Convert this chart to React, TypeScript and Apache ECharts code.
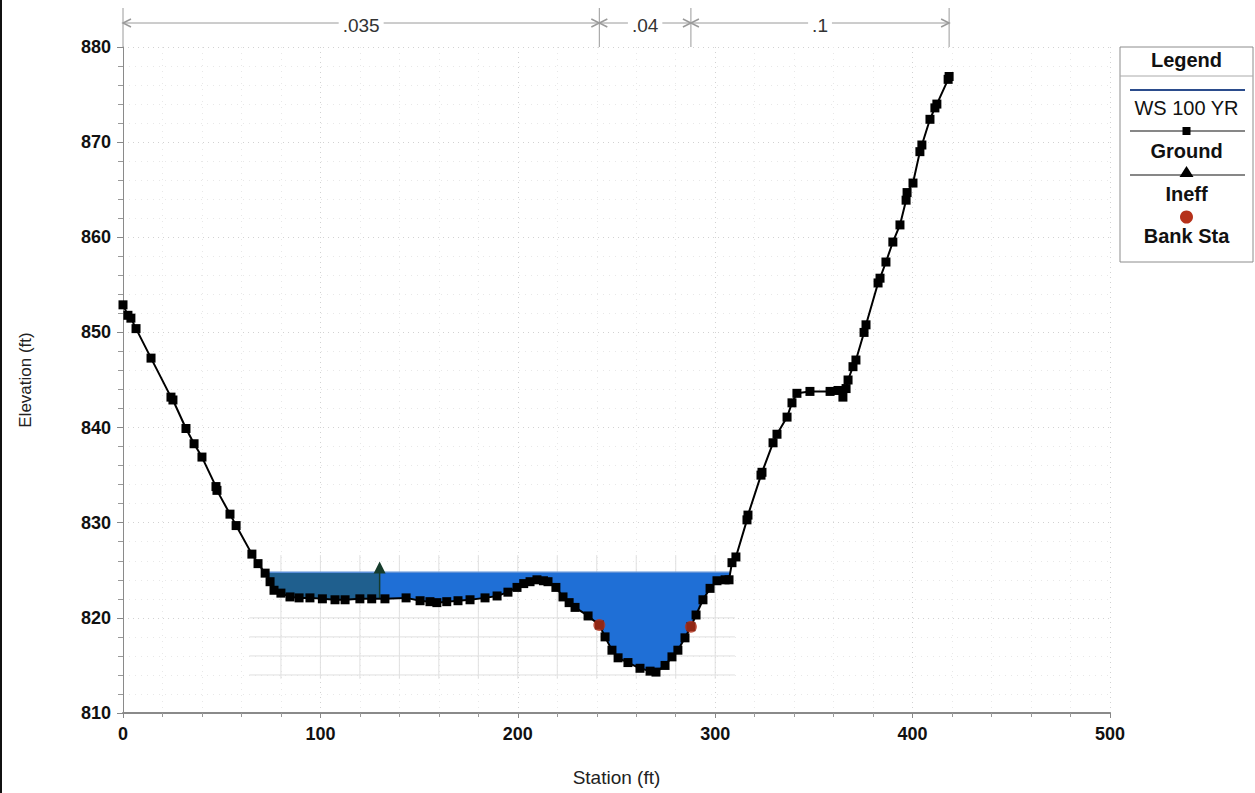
import React, { useEffect, useRef } from 'react';
import * as echarts from 'echarts';

// ---------- data ----------
const groundStation = [
  0, 2.5, 4, 6.6, 14.2, 24.3, 25.3, 31.9, 36, 40, 47.1, 47.6, 54.2, 57.3, 65.3, 68.4, 72, 74.5, 76.5, 80,
  84.6, 89.2, 94.7, 101, 107.4, 112.5, 120, 126, 132.7, 143.4, 150.5, 155.5, 159, 164, 169.7, 175.8, 183.4,
  189.5, 195, 199.6, 203, 206.2, 209.7, 213, 215.3, 219.3, 222.9, 226, 229, 235.6, 241.3, 244.2, 247.7,
  250.8, 255.8, 261.9, 267, 270, 274.6, 278.1, 281.1, 284.7, 287.7, 290.3, 293.8, 297.4, 300.9, 305, 307,
  308.5, 310.5, 316.1, 316.6, 323.2, 323.7, 329.3, 331.3, 336.4, 338.9, 341.4, 348, 358.2, 362.2, 364.7,
  366.3, 367.3, 369.8, 371.3, 375.4, 376.4, 382.5, 383.5, 386.5, 390, 393.6, 396.7, 397.2, 400.2, 403.7,
  404.7, 408.8, 411.3, 412.3, 418, 418.5,
];
const groundElevation = [
  852.9, 851.8, 851.5, 850.4, 847.3, 843.2, 842.9, 839.9, 838.3, 836.9, 833.8, 833.4, 830.9, 829.7, 826.7,
  825.7, 824.7, 823.8, 822.9, 822.6, 822.2, 822.1, 822.1, 822.0, 821.9, 821.9, 822.0, 822.0, 822.0, 822.1,
  821.8, 821.7, 821.6, 821.7, 821.8, 821.9, 822.1, 822.3, 822.7, 823.2, 823.6, 823.8, 824.0, 823.9, 823.8,
  823.2, 822.2, 821.6, 821.1, 820.2, 819.25, 818.0, 816.6, 815.8, 815.3, 814.7, 814.4, 814.3, 815.0, 815.9,
  816.6, 817.9, 819.07, 820.3, 821.9, 823.1, 823.9, 824.0, 824.0, 825.8, 826.4, 830.3, 830.8, 835.0, 835.3,
  838.4, 839.3, 841.1, 842.6, 843.6, 843.8, 843.8, 843.9, 843.2, 844.1, 845.0, 846.4, 847.1, 850.0, 850.8,
  855.2, 855.7, 857.4, 859.5, 861.3, 863.9, 864.7, 865.7, 869.0, 869.7, 872.4, 873.6, 874.0, 876.6, 876.9,
];
const bankStation = [241.3, 287.7];
const bankElevation = [819.25, 819.07];
const wsElevation = 824.8;
const ineffStation = 130;
const ineffElevation = 825.3;
const nBreaks = [0, 241.3, 287.7, 418.5];
const nValues = ['.035', '.04', '.1'];
const meshStations = [80, 100, 120, 140, 160, 180, 200, 220, 240, 260, 280, 300];
const meshElevations = [814, 816, 818, 820];
const meshStationRange = [64, 310];
const meshElevationRange = [813.6, 826.6];
const xMin = 0, xMax = 500, xStep = 100;
const yMin = 810, yMax = 880, yStep = 10;
const legendItems = ['WS 100 YR', 'Ground', 'Ineff', 'Bank Sta'];

// ---------- helpers ----------
function groundAt(s: number): number {
  for (let i = 0; i < groundStation.length - 1; i++) {
    const a = groundStation[i], b = groundStation[i + 1];
    if (s >= a && s <= b) {
      const t = b === a ? 0 : (s - a) / (b - a);
      return groundElevation[i] + t * (groundElevation[i + 1] - groundElevation[i]);
    }
  }
  return groundElevation[groundElevation.length - 1];
}
function crossing(i: number): number {
  const a = groundStation[i], b = groundStation[i + 1];
  const ea = groundElevation[i], eb = groundElevation[i + 1];
  return a + ((wsElevation - ea) / (eb - ea)) * (b - a);
}
function waterEdges(): [number, number] {
  let left = 0, right = 0;
  for (let i = 0; i < groundStation.length - 1; i++) {
    if (groundElevation[i] > wsElevation && groundElevation[i + 1] <= wsElevation) { left = crossing(i); break; }
  }
  for (let i = groundStation.length - 2; i >= 0; i--) {
    if (groundElevation[i] <= wsElevation && groundElevation[i + 1] > wsElevation) { right = crossing(i); break; }
  }
  return [left, right];
}

const FONT = '"Liberation Sans", Arial, sans-serif';

export default function App() {
  const ref = useRef<HTMLDivElement>(null);
  useEffect(() => {
    if (!ref.current) return;
    const chart = echarts.init(ref.current, undefined, { renderer: 'svg' });
    const [wsLeft, wsRight] = waterEdges();
    const groundData = groundStation.map((s, i) => [s, groundElevation[i]]);

    const legendX = 1120, legendY = 47, legendW = 133, legendH = 215;
    const cx = legendX + legendW / 2;
    const textStyle = (text: string, y: number, bold = false) => ({
      type: 'text', x: cx, y,
      style: { text, fill: '#111', font: `${bold ? 'bold ' : ''}20px ${FONT}`, align: 'center', verticalAlign: 'middle' },
    });

    chart.setOption({
      animation: false,
      backgroundColor: '#ffffff',
      grid: { left: 123, right: 145, top: 47, bottom: 80, containLabel: false },
      xAxis: {
        type: 'value', min: xMin, max: xMax, interval: xStep,
        name: 'Station (ft)', nameLocation: 'middle', nameGap: 55,
        nameTextStyle: { fontSize: 19, color: '#222', fontFamily: FONT },
        axisLine: { show: true, onZero: false, lineStyle: { color: '#8a8a8a', width: 2 } },
        axisTick: { show: true, length: 5, lineStyle: { color: '#888' } },
        minorTick: { show: true, splitNumber: 5, length: 4, lineStyle: { color: '#999' } },
        axisLabel: { fontSize: 18, fontWeight: 'bold', color: '#111', margin: 12, fontFamily: FONT },
        splitLine: { show: true, lineStyle: { color: '#d2d2d2', type: [1, 4], width: 1 } },
        minorSplitLine: { show: true, lineStyle: { color: '#e8e8e8', type: [1, 5], width: 1 } },
      },
      yAxis: {
        type: 'value', min: yMin, max: yMax, interval: yStep,
        name: 'Elevation (ft)', nameLocation: 'middle', nameGap: 89, nameRotate: 90,
        nameTextStyle: { fontSize: 17, color: '#222', fontFamily: FONT },
        axisLine: { show: true, lineStyle: { color: '#8a8a8a', width: 1 } },
        axisTick: { show: true, length: 6, lineStyle: { color: '#888' } },
        minorTick: { show: true, splitNumber: 5, length: 5, lineStyle: { color: '#999' } },
        axisLabel: { fontSize: 18, fontWeight: 'bold', color: '#111', margin: 12, fontFamily: FONT },
        splitLine: { show: true, lineStyle: { color: '#d2d2d2', type: [1, 4], width: 1 } },
        minorSplitLine: { show: true, lineStyle: { color: '#e8e8e8', type: [1, 5], width: 1 } },
      },
      series: [
        {
          name: 'mesh', type: 'custom', silent: true, z: 1,
          data: [[meshStationRange[0], meshElevationRange[0]]],
          renderItem: (_p: any, api: any) => {
            const children: any[] = [];
            meshElevations.forEach((e) => {
              const a = api.coord([meshStationRange[0], e]);
              const b = api.coord([meshStationRange[1], e]);
              children.push({ type: 'line', shape: { x1: a[0], y1: a[1], x2: b[0], y2: b[1] }, style: { stroke: '#e0e0e0', lineWidth: 1 } });
            });
            meshStations.forEach((s) => {
              const a = api.coord([s, meshElevationRange[0]]);
              const b = api.coord([s, meshElevationRange[1]]);
              children.push({ type: 'line', shape: { x1: a[0], y1: a[1], x2: b[0], y2: b[1] }, style: { stroke: '#e0e0e0', lineWidth: 1 } });
            });
            return { type: 'group', children };
          },
        },
        {
          name: 'water', type: 'custom', silent: true, z: 2,
          data: [[wsLeft, wsElevation]],
          renderItem: (_p: any, api: any) => {
            const gIneff = groundAt(ineffStation);
            const ineffPts: number[][] = [[wsLeft, wsElevation]];
            const activePts: number[][] = [[ineffStation, wsElevation], [ineffStation, gIneff]];
            groundStation.forEach((s, i) => {
              if (s > wsLeft && s < ineffStation) ineffPts.push([s, groundElevation[i]]);
              if (s > ineffStation && s < wsRight) activePts.push([s, groundElevation[i]]);
            });
            ineffPts.push([ineffStation, gIneff], [ineffStation, wsElevation]);
            activePts.push([wsRight, wsElevation]);
            return {
              type: 'group',
              children: [
                { type: 'polygon', shape: { points: ineffPts.map((p) => api.coord(p)) }, style: { fill: '#1f5f8e' } },
                { type: 'polygon', shape: { points: activePts.map((p) => api.coord(p)) }, style: { fill: '#1f6fd6' } },
              ],
            };
          },
        },
        {
          name: 'WS 100 YR', type: 'line', z: 3, symbol: 'none',
          data: [[wsLeft, wsElevation], [wsRight, wsElevation]],
          lineStyle: { color: '#5b8fd8', width: 1.5 },
        },
        {
          name: 'Ineff', type: 'line', z: 4,
          data: [
            { value: [ineffStation, groundAt(ineffStation)], symbol: 'none' },
            { value: [ineffStation, ineffElevation], symbol: 'triangle', symbolSize: 12 },
          ],
          itemStyle: { color: '#163c2c' },
          lineStyle: { color: '#163c2c', width: 1.5 },
        },
        {
          name: 'Ground', type: 'line', z: 5,
          data: groundData,
          symbol: 'rect', symbolSize: 9,
          itemStyle: { color: '#000' },
          lineStyle: { color: '#000', width: 2 },
        },
        {
          name: 'Bank Sta', type: 'scatter', z: 6,
          data: bankStation.map((s, i) => [s, bankElevation[i]]),
          symbol: 'circle', symbolSize: 12,
          itemStyle: { color: '#b5311a' },
        },
        {
          name: 'nvalues', type: 'custom', silent: true, clip: false, z: 7,
          data: [[nBreaks[0], yMax]],
          renderItem: (_p: any, api: any) => {
            const top = api.coord([xMin, yMax])[1];
            const yTop = top - 39, yLine = top - 24;
            const gray = '#9a9a9a';
            const children: any[] = [];
            nBreaks.forEach((s) => {
              const x = api.coord([s, yMax])[0];
              children.push({ type: 'line', shape: { x1: x, y1: yTop, x2: x, y2: top }, style: { stroke: gray, lineWidth: 1 } });
            });
            nValues.forEach((label, k) => {
              const x0 = api.coord([nBreaks[k], yMax])[0];
              const x1 = api.coord([nBreaks[k + 1], yMax])[0];
              children.push({ type: 'line', shape: { x1: x0, y1: yLine, x2: x1, y2: yLine }, style: { stroke: gray, lineWidth: 1 } });
              children.push({ type: 'polyline', shape: { points: [[x0 + 8, yLine - 4], [x0, yLine], [x0 + 8, yLine + 4]] }, style: { stroke: gray, lineWidth: 1.5, fill: 'none' } });
              children.push({ type: 'polyline', shape: { points: [[x1 - 8, yLine - 4], [x1, yLine], [x1 - 8, yLine + 4]] }, style: { stroke: gray, lineWidth: 1.5, fill: 'none' } });
              children.push({
                type: 'text', x: (x0 + x1) / 2, y: yLine + 2,
                style: { text: label, fill: '#333', font: `19px ${FONT}`, align: 'center', verticalAlign: 'middle', backgroundColor: '#fff', padding: [0, 4] },
              });
            });
            return { type: 'group', children };
          },
        },
      ],
      graphic: [
        { type: 'rect', shape: { x: 0, y: 0, width: 2, height: 793 }, style: { fill: '#111' } },
        { type: 'rect', shape: { x: legendX, y: legendY, width: legendW, height: legendH }, style: { fill: '#fff', stroke: '#8c8c8c', lineWidth: 1 } },
        textStyle('Legend', 60, true),
        { type: 'line', shape: { x1: legendX, y1: 76, x2: legendX + legendW, y2: 76 }, style: { stroke: '#aaa', lineWidth: 1 } },
        { type: 'line', shape: { x1: legendX + 10, y1: 90, x2: legendX + legendW - 8, y2: 90 }, style: { stroke: '#2b4c8c', lineWidth: 2 } },
        textStyle(legendItems[0], 108),
        { type: 'line', shape: { x1: legendX + 10, y1: 131, x2: legendX + legendW - 8, y2: 131 }, style: { stroke: '#111', lineWidth: 1.2 } },
        { type: 'rect', shape: { x: cx - 4, y: 127, width: 8, height: 8 }, style: { fill: '#000' } },
        textStyle(legendItems[1], 151, true),
        { type: 'line', shape: { x1: legendX + 10, y1: 175, x2: legendX + legendW - 8, y2: 175 }, style: { stroke: '#111', lineWidth: 1.2 } },
        { type: 'polygon', shape: { points: [[cx, 166], [cx - 7, 177], [cx + 7, 177]] }, style: { fill: '#000' } },
        textStyle(legendItems[2], 194, true),
        { type: 'circle', shape: { cx, cy: 217, r: 6.5 }, style: { fill: '#b5311a' } },
        textStyle(legendItems[3], 236, true),
      ],
    });
    return () => chart.dispose();
  }, []);
  return <div ref={ref} style={{ position: 'fixed', left: 0, top: 0, width: 1255, height: 793 }} />;
}
